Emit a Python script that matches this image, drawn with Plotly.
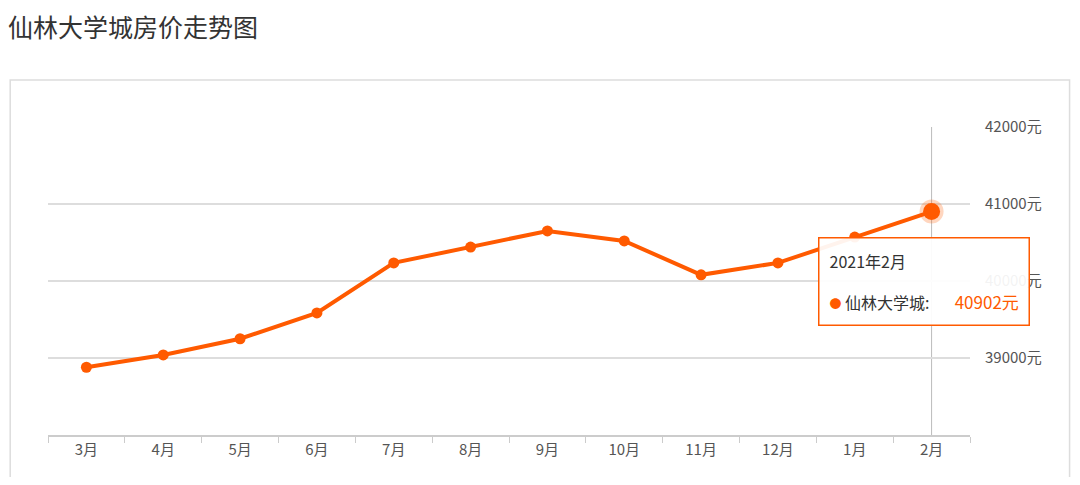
import plotly.graph_objects as go

months = ["3月", "4月", "5月", "6月", "7月", "8月", "9月", "10月", "11月", "12月", "1月", "2月"]
prices = [38880, 39040, 39250, 39585, 40235, 40440, 40650, 40520, 40080, 40235, 40570, 40902]
y_ticks = [39000, 40000, 41000, 42000]
y_labels = ["39000元", "40000元", "41000元", "42000元"]
orange = "#ff5a00"

fig = go.Figure()
fig.add_trace(go.Scatter(
    x=months, y=prices, mode="lines+markers",
    line=dict(color=orange, width=4),
    marker=dict(color=orange, size=11),
    hoverinfo="skip"))
# highlighted last point
fig.add_trace(go.Scatter(
    x=[months[-1]], y=[prices[-1]], mode="markers",
    marker=dict(color=orange, size=17, line=dict(color="rgba(255,90,0,0.25)", width=7)),
    hoverinfo="skip"))

fig.add_shape(type="line", xref="x", yref="paper", x0=months[-1], x1=months[-1], y0=0, y1=1,
              line=dict(color="#bbbbbb", width=1), layer="below")
# chart card border
fig.add_shape(type="rect", xref="paper", yref="paper", x0=-0.041, x1=1.108, y0=-0.3, y1=1.153,
              line=dict(color="#dddddd", width=1.5), fillcolor="rgba(0,0,0,0)", layer="below")

fig.add_annotation(
    xref="paper", yref="paper", x=0.835, y=0.643, xanchor="left", yanchor="top",
    text=("2021年2月<br><br><span style='color:#ff5a00;font-size:12px'>●</span> 仙林大学城:"
          "&nbsp;&nbsp;&nbsp;&nbsp;&nbsp;&nbsp;&nbsp;<span style='color:#ff5a00;font-size:17px'>40902元</span>"),
    align="left", showarrow=False, font=dict(size=16, color="#333333"),
    bgcolor="rgba(255,255,255,0.93)", bordercolor=orange, borderwidth=1.5, borderpad=10)

fig.update_layout(
    width=1064, height=469, plot_bgcolor="white", paper_bgcolor="white",
    margin=dict(l=40, r=102, t=119, b=42, autoexpand=False), showlegend=False,
    font=dict(family="Noto Sans CJK SC", color="#666666", size=15),
    title=dict(text="仙林大学城房价走势图", x=0.0, xanchor="left", y=0.975, yanchor="top",
               font=dict(size=25, color="#333333")),
)
fig.update_xaxes(showgrid=False, showline=True, linecolor="#cccccc", linewidth=2,
                 ticks="outside", tickson="boundaries", tickcolor="#cccccc", ticklen=6,
                 range=[-0.5, 11.5], tickfont=dict(size=15, color="#555555"))
fig.update_yaxes(side="right", range=[38000, 42000], tickvals=y_ticks, ticktext=y_labels,
                 gridcolor="#dddddd", gridwidth=1.5, zeroline=False, showline=False,
                 tickfont=dict(size=15, color="#555555"), ticklabelstandoff=14)

fig.write_html("out.html")
